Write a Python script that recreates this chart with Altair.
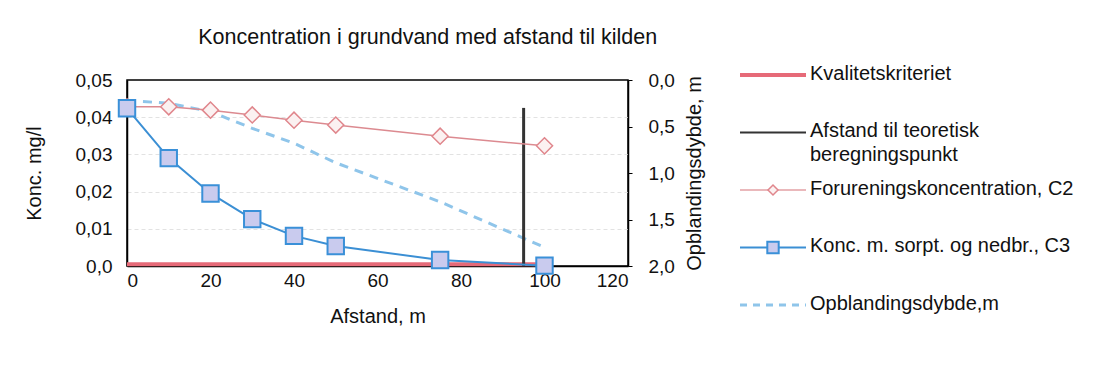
import altair as alt
import pandas as pd

# ---------------- data ----------------
distance = [0, 10, 20, 30, 40, 50, 75, 100]
c2_conc = [0.0428, 0.0428, 0.0419, 0.0406, 0.0392, 0.0379, 0.0349, 0.0323]
c3_conc = [0.0424, 0.0290, 0.0195, 0.0126, 0.0081, 0.0054, 0.0016, 0.0001]
mix_depth = [0.22, 0.25, 0.34, 0.52, 0.68, 0.89, 1.31, 1.80]
criterion_x = [0, 100]
criterion_y = [0.0005, 0.0005]
calc_point_x = [95, 95]
calc_point_y = [0.0, 0.0425]
x_ticks = [0, 20, 40, 60, 80, 100, 120]
conc_ticks = [0.0, 0.01, 0.02, 0.03, 0.04, 0.05]
depth_ticks = [0.0, 0.5, 1.0, 1.5, 2.0]
legend_labels = [
    "Kvalitetskriteriet",
    "Afstand til teoretisk\nberegningspunkt",
    "Forureningskoncentration, C2",
    "Konc. m. sorpt. og nedbr., C3",
    "Opblandingsdybde,m",
]
legend_index = [0, 1, 2, 3, 4]
title_text = "Koncentration i grundvand med afstand til kilden"

FONT = "Liberation Sans"
W, H = 501, 186

c2_df = pd.DataFrame({"x": distance, "y": c2_conc})
c3_df = pd.DataFrame({"x": distance, "y": c3_conc})
depth_df = pd.DataFrame({"x": distance, "d": mix_depth})
crit_df = pd.DataFrame({"x": criterion_x, "y": criterion_y})
calc_df = pd.DataFrame({"x": calc_point_x, "y": calc_point_y})
legend_df = pd.DataFrame({"label": legend_labels, "idx": legend_index})

axis_common = dict(
    labelFont=FONT, titleFont=FONT, labelFontSize=19, titleFontSize=20,
    labelColor="#111111", titleColor="#111111", titleFontWeight="normal",
    domainColor="black", domainWidth=1.5,
)

x_enc = alt.X(
    "x:Q",
    scale=alt.Scale(domain=[0, 120], nice=False),
    axis=alt.Axis(values=x_ticks, title="Afstand, m", ticks=False, grid=False,
                  labelPadding=5, titlePadding=16, **axis_common),
)
y_enc = alt.Y(
    "y:Q",
    scale=alt.Scale(domain=[0, 0.05], nice=False),
    axis=alt.Axis(
        values=conc_ticks, title="Konc. mg/l", ticks=False,
        labelExpr="datum.value == 0 ? '0,0' : replace(format(datum.value, '.2f'), '.', ',')",
        grid=True, gridColor="#e2e2e2", gridDash=[4, 3],
        gridOpacity={"condition": {"test": "datum.value >= 0.05 || datum.value <= 0", "value": 0}, "value": 1},
        labelPadding=15, titlePadding=31,
        **axis_common,
    ),
)
d_enc = alt.Y(
    "d:Q",
    scale=alt.Scale(domain=[0, 2], reverse=True, nice=False),
    axis=alt.Axis(
        orient="right", values=depth_ticks, title="Opblandingsdybde, m",
        labelExpr="replace(format(datum.value, '.1f'), '.', ',')",
        titleAngle=270, titleBaseline="top", ticks=True, tickSize=4, tickColor="black",
        grid=False, labelPadding=16, titlePadding=10, **axis_common,
    ),
)

depth_line = alt.Chart(depth_df).mark_line(
    color="#8fc5ea", strokeWidth=3, strokeDash=[9, 7]
).encode(x=x_enc, y=d_enc)

crit_line = alt.Chart(crit_df).mark_line(color="#e66a78", strokeWidth=4).encode(x=x_enc, y=y_enc)
calc_line = alt.Chart(calc_df).mark_line(color="#333333", strokeWidth=3).encode(x=x_enc, y=y_enc)
c2_line = alt.Chart(c2_df).mark_line(color="#dc8a90", strokeWidth=1.5).encode(x=x_enc, y=y_enc)
c2_pts = alt.Chart(c2_df).mark_point(
    shape="diamond", size=260, filled=True, fill="#fbf1f1", stroke="#e0868c",
    strokeWidth=1.5, opacity=1,
).encode(x=x_enc, y=y_enc)
c3_line = alt.Chart(c3_df).mark_line(color="#3b8fd4", strokeWidth=2).encode(x=x_enc, y=y_enc)
c3_pts = alt.Chart(c3_df).mark_point(
    shape="square", size=270, filled=True, fill="#c9cbee", stroke="#3a90d8",
    strokeWidth=2, opacity=1,
).encode(x=x_enc, y=y_enc)

left = alt.layer(crit_line, calc_line, c2_line, c2_pts, c3_line, c3_pts)
main = alt.layer(depth_line, left).resolve_scale(y="independent").properties(
    width=W, height=H,
)

# ---------------- legend panel ----------------
LW, LH = 340, 260
ly = alt.Y("idx:Q", scale=alt.Scale(domain=[0.087, 4.61], reverse=True), axis=None)
lbase = alt.Chart(legend_df)

def item(i):
    return lbase.transform_filter(alt.datum.idx == i)

leg_layers = [
    item(0).mark_rule(color="#e66a78", strokeWidth=4).encode(x=alt.value(0), x2=alt.value(66), y=ly),
    item(1).mark_rule(color="#333333", strokeWidth=2).encode(x=alt.value(0), x2=alt.value(66), y=ly),
    item(2).mark_rule(color="#e3a0a5", strokeWidth=1.5).encode(x=alt.value(0), x2=alt.value(66), y=ly),
    item(2).mark_point(shape="diamond", size=100, filled=True, fill="#fbf1f1", stroke="#e0868c",
                       strokeWidth=1.5, opacity=1).encode(x=alt.value(33), y=ly),
    item(3).mark_rule(color="#3b8fd4", strokeWidth=2).encode(x=alt.value(0), x2=alt.value(66), y=ly),
    item(3).mark_point(shape="square", size=130, filled=True, fill="#c9cbee", stroke="#3a90d8",
                       strokeWidth=2, opacity=1).encode(x=alt.value(33), y=ly),
    item(4).mark_rule(color="#8fc5ea", strokeWidth=3, strokeDash=[7, 6]).encode(x=alt.value(0), x2=alt.value(66), y=ly),
    lbase.mark_text(align="left", baseline="top", dy=-11, font=FONT, fontSize=20,
                    color="#111111", lineBreak="\n", lineHeight=24).encode(
        x=alt.value(70), y=ly, text="label:N"),
]
legend = alt.layer(*leg_layers).properties(
    width=LW, height=LH, view=alt.ViewBackground(stroke="transparent", strokeWidth=0)
)

chart = alt.hconcat(main, legend, spacing=32).properties(
    title=alt.TitleParams(title_text, anchor="start", dx=175, fontSize=21.5, font=FONT,
                          fontWeight="normal", color="#111111", offset=15),
    padding={"left": 15, "top": 19, "right": 5, "bottom": 5},
).configure_view(stroke="black", strokeWidth=1.5)

chart.save("out.html", embed_options={"renderer": "svg", "actions": False})
